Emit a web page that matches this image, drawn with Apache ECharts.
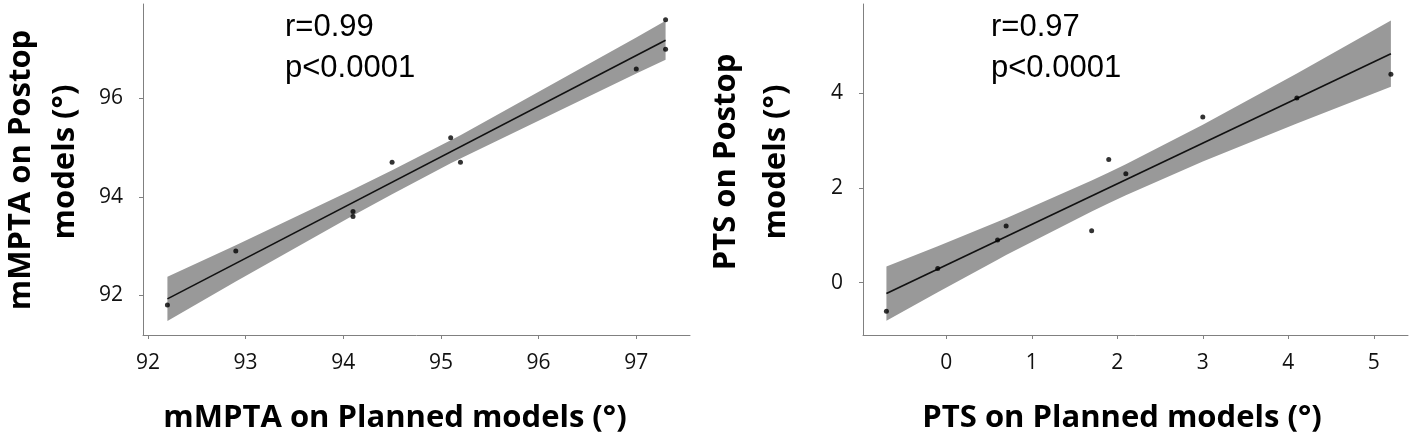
<!DOCTYPE html>
<html>
<head>
<meta charset="utf-8">
<script src="https://cdn.jsdelivr.net/npm/echarts@6/dist/echarts.min.js"></script>
<style>
html,body{margin:0;padding:0;background:#fff;}
#c{width:1418px;height:439px;}
</style>
</head>
<body>
<div id="c"></div>
<script>
// ---- Data ----
const mmptaPlanned = [92.2, 92.9, 94.1, 94.1, 94.5, 95.1, 95.2, 97.0, 97.3, 97.3];
const mmptaPostop  = [91.8, 92.9, 93.7, 93.6, 94.7, 95.2, 94.7, 96.6, 97.6, 97.0];
const ptsPlanned   = [-0.7, -0.1, 0.6, 0.7, 1.7, 1.9, 2.1, 3.0, 4.1, 5.2];
const ptsPostop    = [-0.6, 0.3, 0.9, 1.2, 1.1, 2.6, 2.3, 3.5, 3.9, 4.4];
const leftXTicks  = [92, 93, 94, 95, 96, 97];
const leftYTicks  = [92, 94, 96];
const rightXTicks = [0, 1, 2, 3, 4, 5];
const rightYTicks = [0, 2, 4];
const leftStats  = ['r=0.99', 'p<0.0001'];
const rightStats = ['r=0.97', 'p<0.0001'];
const T_CRIT = 2.306; // t(0.975, df=8)

// ---- Linear fit + 95% CI of the mean, from the data ----
function fit(xs, ys) {
  const n = xs.length;
  const mx = xs.reduce((a, b) => a + b, 0) / n;
  const my = ys.reduce((a, b) => a + b, 0) / n;
  let sxx = 0, sxy = 0;
  for (let i = 0; i < n; i++) { sxx += (xs[i] - mx) ** 2; sxy += (xs[i] - mx) * (ys[i] - my); }
  const b = sxy / sxx, a = my - b * mx;
  let sse = 0;
  for (let i = 0; i < n; i++) sse += (ys[i] - (a + b * xs[i])) ** 2;
  const s = Math.sqrt(sse / (n - 2));
  const ux = Array.from(new Set(xs)).sort((p, q) => p - q);
  const upper = [], lower = [];
  ux.forEach(x => {
    const yh = a + b * x;
    const h = T_CRIT * s * Math.sqrt(1 / n + (x - mx) ** 2 / sxx);
    upper.push([x, yh + h]);
    lower.push([x, yh - h]);
  });
  const xmin = ux[0], xmax = ux[ux.length - 1];
  return {
    line: [[xmin, a + b * xmin], [xmax, a + b * xmax]],
    band: upper.concat(lower.reverse())
  };
}
const fL = fit(mmptaPlanned, mmptaPostop);
const fR = fit(ptsPlanned, ptsPostop);

const AX = '#808080';
const tickFont = {fontFamily: 'Open Sans', fontSize: 21, color: '#111'};
function xAxisCfg(idx, min, max, ticks) {
  return {
    type: 'value', gridIndex: idx, min: min, max: max,
    axisLine: {show: true, onZero: false, lineStyle: {color: AX, width: 1}},
    axisTick: {show: true, length: 4, lineStyle: {color: AX}, customValues: ticks},
    axisLabel: Object.assign({margin: 18, customValues: ticks}, tickFont),
    splitLine: {show: false}
  };
}
function yAxisCfg(idx, min, max, ticks) {
  return {
    type: 'value', gridIndex: idx, min: min, max: max,
    axisLine: {show: true, onZero: false, lineStyle: {color: AX, width: 1}},
    axisTick: {show: true, length: 4, lineStyle: {color: AX}, customValues: ticks},
    axisLabel: Object.assign({margin: 20, customValues: ticks}, tickFont),
    splitLine: {show: false}
  };
}
function bandSeries(idx, band) {
  return {
    type: 'custom', xAxisIndex: idx, yAxisIndex: idx, silent: true, z: 1,
    data: [band[0]],
    encode: {x: 0, y: 1},
    renderItem: function (params, api) {
      const pts = band.map(p => api.coord(p));
      return {type: 'polygon', shape: {points: pts}, style: {fill: '#999999'}};
    }
  };
}
function lineSeries(idx, line) {
  return {
    type: 'line', xAxisIndex: idx, yAxisIndex: idx, data: line, z: 2,
    showSymbol: false, silent: true,
    lineStyle: {color: '#111', width: 1.6}
  };
}
function scatterSeries(idx, xs, ys) {
  return {
    type: 'scatter', xAxisIndex: idx, yAxisIndex: idx, z: 3,
    data: xs.map((x, i) => [x, ys[i]]),
    symbol: 'circle', symbolSize: 5,
    itemStyle: {color: '#000'}
  };
}
const titleFont = 'bold 31px "Open Sans"';
const statFont = '31px "Liberation Sans"';
function txt(text, x, y, font, align, rot) {
  return {
    type: 'text', x: x, y: y, rotation: rot || 0,
    style: {text: text, font: font, fill: '#000', textAlign: align || 'center', textVerticalAlign: 'middle'}
  };
}

const chart = echarts.init(document.getElementById('c'), null, {renderer: 'canvas'});
chart.setOption({
  animation: false,
  backgroundColor: '#fff',
  grid: [
    {left: 143, top: 4, right: 728, bottom: 104, containLabel: false},
    {left: 863, top: 4, right: 10, bottom: 104, containLabel: false}
  ],
  xAxis: [
    xAxisCfg(0, 91.95, 97.55, leftXTicks),
    xAxisCfg(1, -0.974, 5.40, rightXTicks)
  ],
  yAxis: [
    yAxisCfg(0, 91.19, 97.92, leftYTicks),
    yAxisCfg(1, -1.104, 5.886, rightYTicks)
  ],
  series: [
    bandSeries(0, fL.band), lineSeries(0, fL.line), scatterSeries(0, mmptaPlanned, mmptaPostop),
    bandSeries(1, fR.band), lineSeries(1, fR.line), scatterSeries(1, ptsPlanned, ptsPostop)
  ],
  graphic: [
    txt('mMPTA on Planned models (°)', 395, 418, titleFont),
    txt('PTS on Planned models (°)', 1122, 418, titleFont),
    txt('mMPTA on Postop', 21, 170, titleFont, 'center', Math.PI / 2),
    txt('models (°)', 65, 162, titleFont, 'center', Math.PI / 2),
    txt('PTS on Postop', 726, 162, titleFont, 'center', Math.PI / 2),
    txt('models (°)', 776, 162, titleFont, 'center', Math.PI / 2),
    txt(leftStats[0], 285, 27, statFont, 'left'),
    txt(leftStats[1], 285, 68, statFont, 'left'),
    txt(rightStats[0], 991, 27, statFont, 'left'),
    txt(rightStats[1], 991, 68, statFont, 'left')
  ]
});
</script>
</body>
</html>
